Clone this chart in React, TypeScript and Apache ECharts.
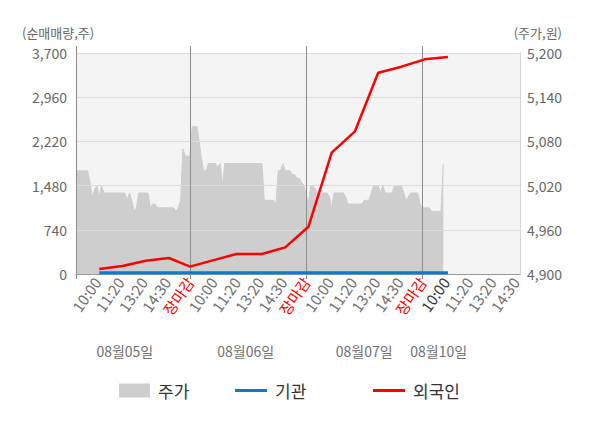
import React, { useEffect, useRef } from 'react';
import * as echarts from 'echarts';

// ---- categories / tick labels ----
const dayNames = ['08월05일', '08월06일', '08월07일', '08월10일'];
const timeLabels = ['10:00', '11:20', '13:20', '14:30', '장마감'];
const slotsPerDay = 50;
const slotCount = 192;
const labelEvery = 10;
const dayEndIdx = [49, 99, 149];
const dateLabelIdx = [21, 73, 124, 156];
const currentLabelIdx = 159;

const categories: string[] = Array.from({ length: slotCount }, (_, i) => `${dayNames[Math.floor(i / slotsPerDay)]} #${i % slotsPerDay}`);

// ---- 주가 (price, right axis) ----
const priceData = [
  5040, 5040, 5040, 5040, 5040, 5040, 5025, 5005, 5015, 5020,
  5005, 5020, 5010, 5010, 5010, 5010, 5010, 5010, 5010, 5010,
  5010, 5010, 5000, 5010, 5000, 4985, 4990, 5010, 5010, 5010,
  5010, 5010, 4990, 4995, 4995, 4990, 4990, 4990, 4990, 4990,
  4990, 4990, 4990, 4985, 4990, 5000, 5070, 5060, 5060, 5060,
  5100, 5100, 5100, 5080, 5055, 5040, 5040, 5050, 5050, 5050,
  5050, 5045, 5050, 5020, 5050, 5050, 5050, 5050, 5050, 5050,
  5050, 5050, 5050, 5050, 5050, 5050, 5050, 5050, 5050, 5050,
  5050, 5000, 5000, 5000, 5000, 5000, 4995, 5040, 5040, 5050,
  5040, 5040, 5040, 5035, 5035, 5030, 5030, 5025, 5020, 5010,
  4995, 5020, 5020, 5015, 5010, 5010, 5010, 5010, 5010, 5005,
  4990, 5010, 5010, 5010, 5010, 5010, 5005, 4995, 4995, 4995,
  4995, 4995, 4995, 4995, 5000, 5000, 5000, 5010, 5020, 5020,
  5020, 5010, 5020, 5010, 5010, 5010, 5010, 5020, 5020, 5020,
  5020, 5010, 5000, 5005, 5010, 5010, 5010, 5010, 4995, 4990,
  4990, 4990, 4990, 4985, 4985, 4985, 4985, 4985, 5050,
];

// ---- 순매매량 (left axis) ----
const investorIdx = [10, 20, 30, 40, 49, 60, 69, 80, 90, 100, 110, 120, 130, 140, 150, 160];
const institutionValues = [20, 20, 20, 20, 20, 20, 20, 20, 20, 20, 20, 20, 20, 20, 20, 20];
const foreignValues = [84, 134, 223, 268, 123, 240, 335, 335, 446, 792, 2031, 2389, 3370, 3471, 3594, 3633];

const leftTicks = { min: 0, max: 3700, interval: 740 };
const rightTickValues = [4900, 4960, 5020, 5080, 5140, 5200];

const FONT = 'Noto Sans CJK KR';

export default function App() {
  const ref = useRef<HTMLDivElement>(null);
  useEffect(() => {
    document.body.style.margin = '0';
    const chart = echarts.init(ref.current!, null, { renderer: 'svg' });
    const isLabel = (i: number) => (i + 1) % labelEvery === 0;
    const isBoundary = (i: number) => dayEndIdx.indexOf(i) >= 0;
    const legendText = { fontSize: 17, color: '#333', fontFamily: FONT, padding: [0, 0, 0, 3] };
    chart.setOption({
      animation: false,
      textStyle: { fontFamily: FONT },
      grid: {
        left: 76, right: 80, top: 53, bottom: 154,
        show: true, backgroundColor: '#f4f4f4', borderWidth: 0,
      },
      graphic: [
        { type: 'text', left: 22, top: 26, style: { text: '(순매매량,주)', fontSize: 13, fontFamily: FONT, fill: '#666' } },
        { type: 'text', right: 38, top: 26, style: { text: '(주가,원)', fontSize: 13, fontFamily: FONT, fill: '#666' } },
      ],
      legend: [
        { data: [{ name: '주가', icon: 'rect' }], left: 114, top: 377, itemWidth: 31, itemHeight: 14, textStyle: legendText },
        { data: [{ name: '기관', icon: 'rect' }], left: 230, top: 377, itemWidth: 32, itemHeight: 3, textStyle: legendText },
        { data: [{ name: '외국인', icon: 'rect' }], left: 368, top: 377, itemWidth: 32, itemHeight: 3, textStyle: legendText },
      ],
      xAxis: [
        {
          type: 'category', data: categories, boundaryGap: false, z: 3,
          axisLine: { lineStyle: { color: '#999' } },
          axisTick: { show: true, interval: (i: number) => i === 0 || isBoundary(i), length: 5, lineStyle: { color: '#888' } },
          splitLine: { show: true, interval: (i: number) => isBoundary(i), lineStyle: { color: '#8c8c8c' } },
          axisLabel: {
            interval: (i: number) => isLabel(i), rotate: 55, margin: 5,
            formatter: (_v: string, i: number) => {
              const t = timeLabels[((i + 1) / labelEvery - 1) % timeLabels.length];
              if (t === '장마감') return `{r|${t}}`;
              if (i === currentLabelIdx) return `{d|${t}}`;
              return `{n|${t}}`;
            },
            rich: {
              n: { fontSize: 15, color: '#707070', fontFamily: FONT },
              d: { fontSize: 15, color: '#333', fontFamily: FONT },
              r: { fontSize: 15, color: '#ff0000', fontFamily: FONT },
            },
          },
        },
        {
          type: 'category', data: categories, boundaryGap: false, position: 'top',
          axisLine: { show: false }, axisLabel: { show: false }, splitLine: { show: false },
          axisTick: { show: true, interval: (i: number) => i === 0 || isBoundary(i), length: 7, lineStyle: { color: '#888' } },
        },
        {
          type: 'category', data: categories, boundaryGap: false, position: 'bottom', offset: 62,
          axisLine: { show: false }, axisTick: { show: false }, splitLine: { show: false },
          axisLabel: {
            interval: (i: number) => dateLabelIdx.indexOf(i) >= 0,
            formatter: (_v: string, i: number) => dayNames[dateLabelIdx.indexOf(i)] ?? '',
            fontSize: 14, color: '#707070', margin: 8,
          },
        },
      ],
      yAxis: [
        {
          type: 'value', min: leftTicks.min, max: leftTicks.max, interval: leftTicks.interval, z: 3,
          axisLine: { show: true, lineStyle: { color: '#8c8c8c' } },
          axisTick: { show: false },
          axisLabel: { fontSize: 14, color: '#666', margin: 9 },
          splitLine: { show: true, lineStyle: { color: '#dcdcdc' } },
        },
        {
          type: 'value', position: 'right', min: rightTickValues[0], max: rightTickValues[rightTickValues.length - 1],
          axisLine: { show: true, lineStyle: { color: '#d4d4d4' } },
          axisTick: { show: false },
          splitLine: { show: false },
          axisLabel: { fontSize: 14, color: '#666', margin: 7, customValues: rightTickValues },
        },
      ],
      series: [
        {
          name: '주가', type: 'line', xAxisIndex: 0, yAxisIndex: 1, data: priceData, z: 1,
          symbol: 'none', color: '#cecece',
          lineStyle: { width: 1, color: '#cecece' },
          areaStyle: { color: '#cecece', opacity: 1 },
        },
        {
          name: '기관', type: 'line', xAxisIndex: 0, yAxisIndex: 0, z: 4,
          data: investorIdx.map((x, k) => [x, institutionValues[k]]),
          symbol: 'none', color: '#0b7cc9', lineStyle: { width: 3, color: '#0b7cc9' },
        },
        {
          name: '외국인', type: 'line', xAxisIndex: 0, yAxisIndex: 0, z: 5,
          data: investorIdx.map((x, k) => [x, foreignValues[k]]),
          symbol: 'none', color: '#ff0000', lineStyle: { width: 2.5, color: '#ff0000' },
        },
      ],
    });
    return () => chart.dispose();
  }, []);
  return <div ref={ref} style={{ width: 600, height: 428 }} />;
}
